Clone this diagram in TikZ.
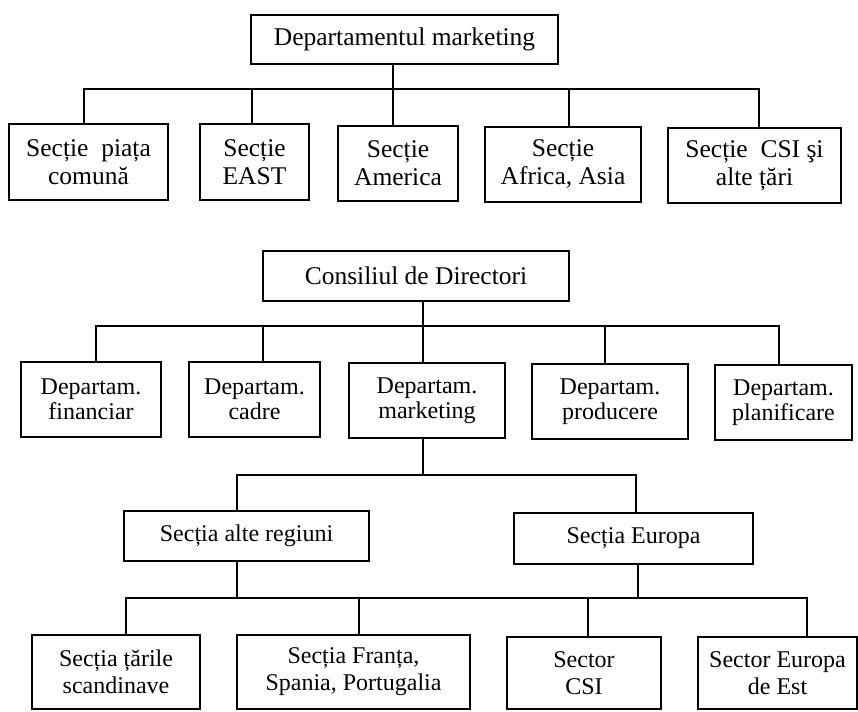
\documentclass[tikz,border=0pt]{standalone}
\usepackage{fontspec}
\setmainfont{Liberation Serif}
\tikzset{
  box/.style={draw, line width=1.3pt, align=center, inner sep=0pt,
    minimum height=#1},
  box/.default={75},
  link/.style={line width=1.3pt, line cap=rect},
  big text/.style={font=\fontsize{25.5}{28}\selectfont},
  small text/.style={font=\fontsize{24}{25.5}\selectfont},
  tall text/.style={font=\fontsize{24}{27}\selectfont}
}

\begin{document}
\begin{tikzpicture}[x=1pt, y=-1pt]
    \useasboundingbox (0,0) rectangle (858,711);
    % Departamentul marketing
    \begin{scope}[big text]
      \node[box=49, minimum width=307] (dm) at (404.5,39.5) {Departamentul marketing};
      \node[box=76, minimum width=159] (s1) at (88.5,162) {Secție\ \ piața\\comună};
      \node[box=76, minimum width=109] (s2) at (254.5,162) {Secție\\EAST};
      \node[box, minimum width=120] (s3) at (398,163.5) {Secție\\America};
      \node[box, minimum width=156] (s4) at (563,164.5) {Secție\\Africa, Asia};
      \node[box, minimum width=173] (s5) at (754.5,165.5) {Secție\ \ CSI şi\\alte țări};
      \coordinate (j0) at (393,89);
      \foreach \n/\x in {1/84,2/252,3/393,4/569,5/759}
        \coordinate (p\n) at (\x,89);
    \end{scope}
    \draw[link] (dm.south -| j0) -- (j0);
    \draw[link] (p1) -- (p5);
    \foreach \n in {1,...,5}
      \draw[link] (p\n) -- (p\n |- s\n.north);
    % Consiliul de Directori
    \begin{scope}[small text]
      \node[box=50, big text, minimum width=306] (cd) at (416,276) {Consiliul de Directori};
      \node[box, minimum width=140] (d1) at (91,399.5) {Departam.\\financiar};
      \node[box, minimum width=131] (d2) at (254.5,399.5) {Departam.\\cadre};
      \node[box, minimum width=156] (d3) at (427,400.5) {Departam.\\marketing};
      \node[box, minimum width=156] (d4) at (610,401.5) {Departam.\\producere};
      \node[box, minimum width=137] (d5) at (783.5,402.5) {Departam.\\planificare};
      \coordinate (k0) at (423,326);
      \foreach \n/\x in {1/96,2/263,3/423,4/605,5/779}
        \coordinate (q\n) at (\x,326);
    \end{scope}
    \draw[link] (cd.south -| k0) -- (k0);
    \draw[link] (q1) -- (q5);
    \foreach \n in {1,...,5}
      \draw[link] (q\n) -- (q\n |- d\n.north);
    % sectii si sectoare
    \begin{scope}[tall text]
      \node[box=50, minimum width=245] (ar) at (246.5,536) {Secția alte regiuni};
      \node[box=51, minimum width=239] (eu) at (633.5,538.5) {Secția Europa};
      \node[box=74, minimum width=168] (t1) at (116,672) {Secția țările\\scandinave};
      \node[box=74, minimum width=233] (t2) at (353.5,672) {Secția Franța,\\Spania, Portugalia};
      \node[box=72, minimum width=154] (t3) at (584,673) {Sector\\CSI};
      \node[box=72, minimum width=159] (t4) at (777.5,673) {Sector Europa\\de Est};
      \coordinate (m0) at (423,475);
      \coordinate (m1) at (237,475);
      \coordinate (m2) at (636,475);
      \coordinate (r1) at (237,598);
      \coordinate (r2) at (638,598);
      \foreach \n/\x in {1/126,2/359,3/588,4/807}
        \coordinate (u\n) at (\x,598);
    \end{scope}
    \draw[link] (d3.south -| m0) -- (m0);
    \draw[link] (m1 |- ar.north) -- (m1) -- (m2) -- (m2 |- eu.north);
    \draw[link] (ar.south -| r1) -- (r1);
    \draw[link] (eu.south -| r2) -- (r2);
    \draw[link] (u1) -- (u4);
    \foreach \n in {1,...,4}
      \draw[link] (u\n) -- (u\n |- t\n.north);
\end{tikzpicture}
\end{document}
